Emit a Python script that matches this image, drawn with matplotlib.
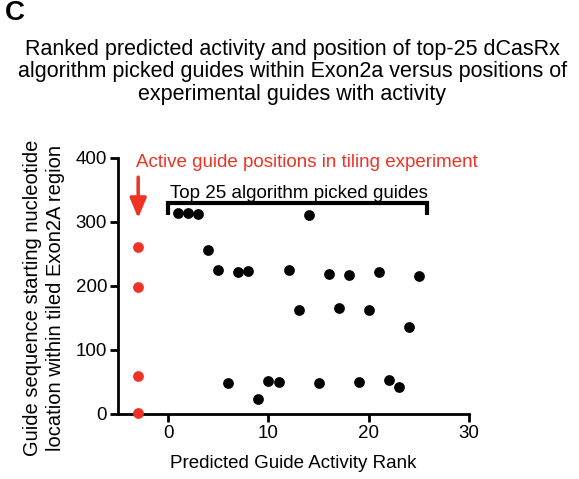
import matplotlib.pyplot as plt
from matplotlib.ticker import MultipleLocator

plt.rcParams['font.family'] = ['Liberation Sans', 'DejaVu Sans']

# algorithm picked guides: rank vs start position
rank = list(range(1, 26))
position = [314, 314, 312, 257, 225, 48, 222, 223, 23, 52,
            50, 225, 163, 311, 48, 218, 166, 217, 50, 162,
            222, 53, 42, 136, 216]

# experimental active guides
active_x = [-3, -3, -3, -3]
active_pos = [261, 198, 59, 2]

fig = plt.figure(figsize=(5.79, 4.79), dpi=100)
ax = fig.add_axes([0.204, 0.1357, 0.606, 0.5345])

ax.scatter(rank, position, s=60, color='black', zorder=3, clip_on=False, linewidths=0)
ax.scatter(active_x, active_pos, s=60, color='#ee3224', zorder=3, clip_on=False, linewidths=0)

ax.set_xlim(-5, 30)
ax.set_ylim(0, 400)
ax.yaxis.set_major_locator(MultipleLocator(100))
ax.set_xticks([0, 10, 20, 30])

for s in ['top', 'right']:
    ax.spines[s].set_visible(False)
for s in ['left', 'bottom']:
    ax.spines[s].set_linewidth(2)
ax.tick_params(width=2, length=6, labelsize=13.5, direction='out', pad=2)

ax.set_xlabel('Predicted Guide Activity Rank', fontsize=13.5, labelpad=9)
fig.text(44 / 579, 1 - 298 / 479,
         'Guide sequence starting nucleotide\nlocation within tiled Exon2A region',
         rotation=90, ha='center', va='center', fontsize=14.5, linespacing=1.25)

# bracket over top 25
ax.plot([0, 0, 25.8, 25.8], [311, 330, 330, 311], color='black', lw=3,
        clip_on=False, solid_capstyle='butt', solid_joinstyle='miter')
ax.text(13, 345, 'Top 25 algorithm picked guides', ha='center', va='center', fontsize=13.5)

ax.text(-3.2, 393, 'Active guide positions in tiling experiment', ha='left', va='center',
        fontsize=13.5, color='#ee3224')
ax.annotate('', xy=(-3, 306), xytext=(-3, 370),
            arrowprops=dict(arrowstyle='-|>,head_width=0.5,head_length=1.2',
                            color='#ee3224', lw=2.5, shrinkA=0, shrinkB=0))

fig.text(0.505, 1 - 72 / 479, 'Ranked predicted activity and position of top-25 dCasRx\n'
         'algorithm picked guides within Exon2a versus positions of\n'
         'experimental guides with activity',
         ha='center', va='center', fontsize=15.5, linespacing=1.12)
fig.text(0.008, 1.0, 'C', ha='left', va='top', fontsize=20, fontweight='bold')

fig.savefig('out.png', dpi=100)
